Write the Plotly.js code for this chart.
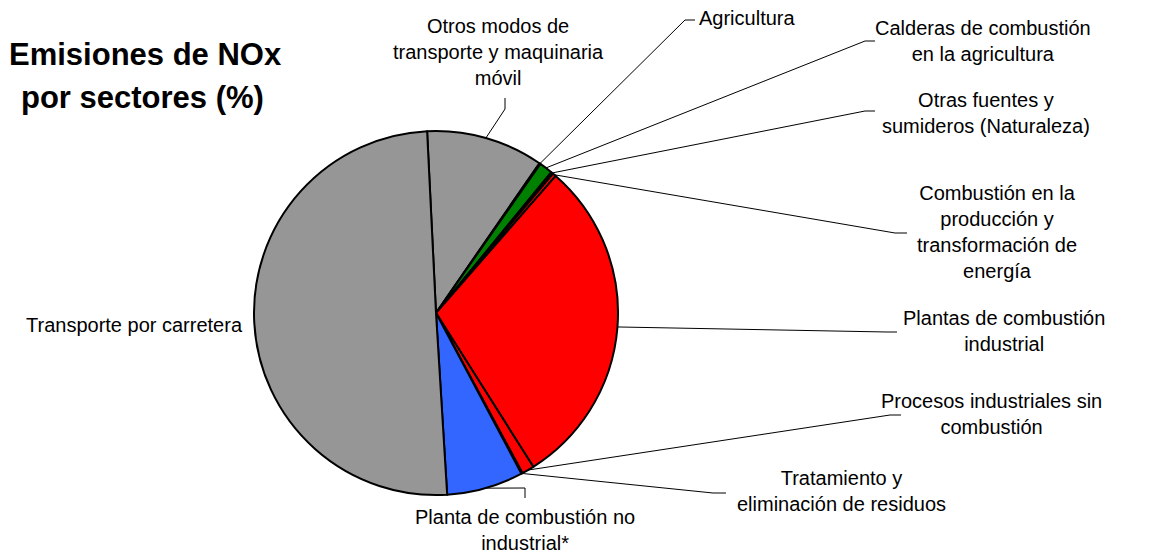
<!DOCTYPE html>
<html>
<head>
<meta charset="utf-8">
<script src="https://cdn.plot.ly/plotly-3.0.1.min.js"></script>
<style>
  html, body { margin: 0; padding: 0; background: #fff; }
  #chart { width: 1152px; height: 554px; }
</style>
</head>
<body>
<div id="chart"></div>
<script>
// ------------------------------
// Data (clockwise from the top)
// ------------------------------
const sectors = [
  "Otros modos de transporte y maquinaria móvil",
  "Agricultura",
  "Calderas de combustión en la agricultura",
  "Otras fuentes y sumideros (Naturaleza)",
  "Combustión en la producción y transformación de energía",
  "Plantas de combustión industrial",
  "Procesos industriales sin combustión",
  "Tratamiento y eliminación de residuos",
  "Planta de combustión no industrial*",
  "Transporte por carretera",
];
const shares = [10.4, 0.1, 1.2, 0.2, 0.3, 29.6, 1.1, 0.1, 6.8, 50.2];
const sliceColors = [
  "#969696", "#000000", "#008000", "#003300", "#FF0000",
  "#FF0000", "#FF0000", "#FF0000", "#3366FF", "#969696",
];
// label text as printed (line breaks)
const labelText = [
  "Otros modos de<br>transporte y maquinaria<br>móvil",
  "Agricultura",
  "Calderas de combustión<br>en la agricultura",
  "Otras fuentes y<br>sumideros (Naturaleza)",
  "Combustión en la<br>producción y<br>transformación de<br>energía",
  "Plantas de combustión<br>industrial",
  "Procesos industriales sin<br>combustión",
  "Tratamiento y<br>eliminación de residuos",
  "Planta de combustión no<br>industrial*",
  "Transporte por carretera",
];

// ------------------------------
// Layout (pixels)
// ------------------------------
const W = 1152, H = 554;
const CX = 436, CY = 313, R = 182;
const ROT = -2.8;

// label anchor [x, y, xanchor]
const labelPos = [
  [498, 52, "center"],
  [697, 18, "left"],
  [983, 41, "center"],
  [986, 113, "center"],
  [997, 232, "center"],
  [1004, 331, "center"],
  [991, 414, "center"],
  [841, 491, "center"],
  [525, 530, "center"],
  [134, 325, "center"],
];
// leader line: elbow point then end point (null = no leader)
const leaders = [
  [[505, 109], [505, 98]],
  [[685, 20], [695, 20]],
  [[865, 41], [875, 41]],
  [[865, 111], [875, 111]],
  [[895, 233], [907, 233]],
  [[887, 332], [897, 332]],
  [[890, 415], [901, 415]],
  [[713, 493], [726, 493]],
  [[525, 488], [525, 498]],
  null,
];

const px = x => x / W;
const py = y => 1 - y / H;

// mid angle of each slice, clockwise from 12 o'clock
const total = shares.reduce((a, v) => a + v, 0);
let acc = ROT;
const midAngles = shares.map(v => {
  const a = v / total * 360;
  const m = acc + a / 2;
  acc += a;
  return m;
});

const shapes = [];
leaders.forEach((l, i) => {
  if (!l) return;
  const t = midAngles[i] * Math.PI / 180;
  const x0 = CX + R * Math.sin(t);
  const y0 = CY - R * Math.cos(t);
  shapes.push({
    type: "path",
    xref: "paper", yref: "paper",
    path: `M ${px(x0)} ${py(y0)} L ${px(l[0][0])} ${py(l[0][1])} L ${px(l[1][0])} ${py(l[1][1])}`,
    line: { color: "#000", width: 1 },
    layer: "below",
  });
});

const annotations = labelPos.map((p, i) => ({
  xref: "paper", yref: "paper",
  x: px(p[0]), y: py(p[1]),
  xanchor: p[2], yanchor: "middle",
  text: labelText[i],
  showarrow: false,
  align: "center",
  font: { family: "Liberation Sans, Arial, sans-serif", size: 20, color: "#000" },
}));

annotations.push(
  {
    xref: "paper", yref: "paper", x: px(145), y: py(55),
    xanchor: "center", yanchor: "middle", showarrow: false,
    text: "<b>Emisiones de NOx</b>",
    font: { family: "Liberation Sans, Arial, sans-serif", size: 31, color: "#000" },
  },
  {
    xref: "paper", yref: "paper", x: px(142), y: py(98),
    xanchor: "center", yanchor: "middle", showarrow: false,
    text: "<b>por sectores (%)</b>",
    font: { family: "Liberation Sans, Arial, sans-serif", size: 31, color: "#000" },
  }
);

Plotly.newPlot(
  "chart",
  [{
    type: "pie",
    labels: sectors,
    values: shares,
    sort: false,
    direction: "clockwise",
    rotation: ROT,
    textinfo: "none",
    hoverinfo: "label+percent",
    marker: { colors: sliceColors, line: { color: "#000", width: 2 } },
    domain: { x: [px(CX - R), px(CX + R)], y: [py(CY + R), py(CY - R)] },
  }],
  {
    width: W,
    height: H,
    margin: { t: 0, l: 0, r: 0, b: 0 },
    paper_bgcolor: "#fff",
    showlegend: false,
    shapes,
    annotations,
  },
  { displayModeBar: false }
);
</script>
</body>
</html>
